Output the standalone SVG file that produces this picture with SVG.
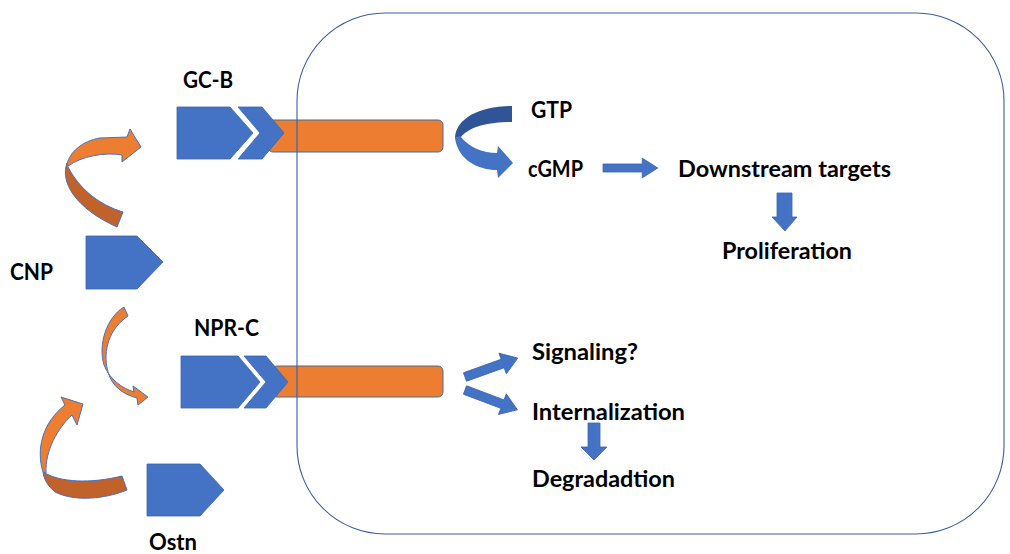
<svg xmlns="http://www.w3.org/2000/svg" width="1010" height="554" viewBox="0 0 1010 554">
<style>
.lbl{font-family:Lato,"Open Sans","Liberation Sans",sans-serif;font-weight:bold;font-size:22px;fill:#000}
.blue{fill:#4472C4;stroke:#3B64B0;stroke-width:0.8}
.bar{fill:#ED7D31;stroke:#41719C;stroke-width:1}
.orl{fill:#ED7D31;stroke:#4472C4;stroke-width:1}
.ord{fill:#C0622A;stroke:#4472C4;stroke-width:1}
.barrow{fill:#4472C4;stroke:#3B64B0;stroke-width:0.8}
</style>
<defs>
<path id="blk" d="M0,-4.5 L40,-4.5 L40,-11 L56,0 L40,11 L40,4.5 L0,4.5 Z"/>
</defs>
<rect width="1010" height="554" fill="#fff"/>

<g id="gcb">
<rect class="bar" x="268" y="120" width="175" height="32" rx="5"/>
<path class="blue" d="M177,107 L230,107 L253,133 L230,159 L177,159 Z"/>
<path class="blue" d="M238,107 L262,107 L284,133 L262,159 L238,159 L260,133 Z"/>
<text class="lbl" x="183" y="88" textLength="50" lengthAdjust="spacingAndGlyphs">GC-B</text>
</g>

<g id="nprc">
<rect class="bar" x="272" y="366" width="171" height="31" rx="5"/>
<path class="blue" d="M181,356 L238,356 L260,382 L238,408 L181,408 Z"/>
<path class="blue" d="M244,356 L266,356 L288,382 L266,408 L244,408 L266,382 Z"/>
<text class="lbl" x="194" y="336" textLength="65" lengthAdjust="spacingAndGlyphs">NPR-C</text>
</g>

<g id="cnp">
<path class="blue" d="M86,236 L137,236 L163,262 L137,289 L86,289 Z"/>
<text class="lbl" x="10" y="280" textLength="43" lengthAdjust="spacingAndGlyphs">CNP</text>
</g>

<g id="ostn">
<path class="blue" d="M147,464 L200,464 L224,490 L200,516 L147,516 Z"/>
<text class="lbl" x="149" y="550" textLength="48" lengthAdjust="spacingAndGlyphs">Ostn</text>
</g>

<g id="gtp"><text class="lbl" x="531" y="118" textLength="41" lengthAdjust="spacingAndGlyphs">GTP</text></g>
<g id="cgmp"><text class="lbl" x="528" y="177" textLength="55" lengthAdjust="spacingAndGlyphs">cGMP</text></g>
<g id="downstream"><text class="lbl" x="678" y="177" textLength="213" lengthAdjust="spacingAndGlyphs">Downstream targets</text></g>
<g id="proliferation"><text class="lbl" x="722" y="259" textLength="130" lengthAdjust="spacingAndGlyphs">Proliferation</text></g>
<g id="signaling"><text class="lbl" x="532" y="360" textLength="106" lengthAdjust="spacingAndGlyphs">Signaling?</text></g>
<g id="internalization"><text class="lbl" x="532" y="420" textLength="153" lengthAdjust="spacingAndGlyphs">Internalization</text></g>
<g id="degradation"><text class="lbl" x="532" y="487" textLength="143" lengthAdjust="spacingAndGlyphs">Degradadtion</text></g>

<g id="connectors">
<path class="ord" d="M67,163 C60,182 75,208 117,227 L123,212 C100,205 80,190 68,167 Z"/>
<path class="orl" d="M67,164 C70,152 82,141 100,138 L127,137 L130,129 L141,147 L122,162 L122,155 C105,152 82,156 68,166 Z"/>
<path class="orl" d="M124,307 C106,318 98,345 104,365 C110,380 122,388 134,392 L133,386 L148,397 L138,405 L137,398 C122,394 112,386 108,372 C102,350 110,328 128,316 Z"/>
<path class="ord" d="M45,473 C60,482 90,484 122,476 L127,490 C105,499 75,502 55,492 C48,486 44,480 43,472 Z"/>
<path class="orl" d="M43,472 C36,450 42,423 65,405 L61,397 L83,404 L77,425 L72,415 C58,428 45,450 46,473 Z"/>
<path fill="#2F5597" d="M512,106 L512,122 C490,122 470,126 461,137 L455,138 C456,118 480,106 512,106 Z"/>
<path fill="#4472C4" d="M460,136 C470,148 483,153 497,153 L498,146 L513,163 L498,178 L497,170 C478,170 458,160 455,138 Z"/>
<use href="#blk" class="barrow" transform="translate(603,168) scale(0.98,0.9)"/>
<path class="barrow" d="M777,193 L792,193 L792,217 L797,217 L785,231 L772,217 L777,217 Z"/>
<use href="#blk" class="barrow" transform="translate(465,377) rotate(-19.7)"/>
<use href="#blk" class="barrow" transform="translate(465,390) rotate(20.7)"/>
<path class="barrow" d="M588,423 L600,423 L600,447 L607,447 L594,460 L581,447 L588,447 Z"/>
</g>

<g id="cell">
<rect x="297" y="13" width="707" height="521" rx="88" fill="none" stroke="#3A5FA0" stroke-width="1.1"/>
</g>
</svg>
